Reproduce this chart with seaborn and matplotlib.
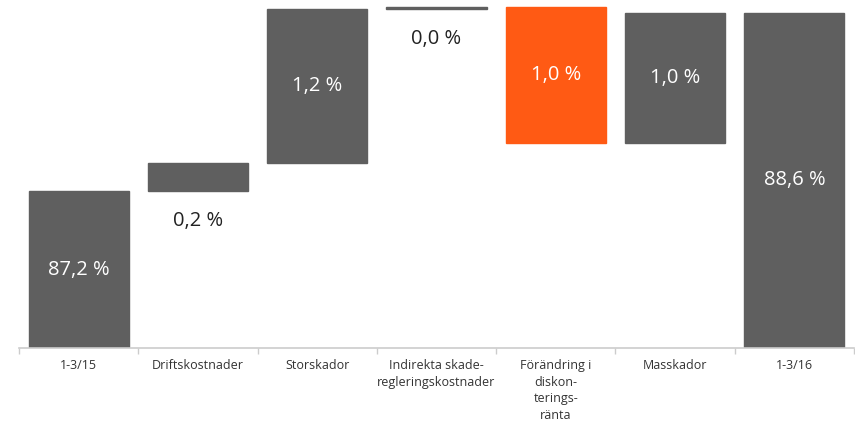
import matplotlib
matplotlib.use("Agg")
import matplotlib.pyplot as plt
import seaborn as sns
import numpy as np

# Categories (x tick labels)
categories = ["1-3/15", "Driftskostnader", "Storskador",
              "Indirekta skade-\nregleringskostnader",
              "Förändring i\ndiskon-\nterings-\nränta",
              "Masskador", "1-3/16"]
# Value labels printed on the chart
value_labels = ["87,2 %", "0,2 %", "1,2 %", "0,0 %", "1,0 %", "1,0 %", "88,6 %"]
# Bar extents as drawn (chart is not to scale; units)
bar_bottoms = [0, 157, 185, 339, 205, 205, 0]
bar_tops = [157, 185, 339, 341, 341, 335, 335]
# Label inside the bar (True) or below it (False)
label_inside = [True, False, True, False, True, True, True]
bar_colors = ["#5f5f5f", "#5f5f5f", "#5f5f5f", "#5f5f5f", "#ff5a14", "#5f5f5f", "#5f5f5f"]

sns.set_style("white")
plt.rcParams["font.family"] = ["Open Sans", "DejaVu Sans"]

heights = [t - b for t, b in zip(bar_tops, bar_bottoms)]

fig = plt.figure(figsize=(8.55, 4.22), dpi=100)
ax = fig.add_axes([19 / 855, 1 - 348 / 422, 835 / 855, 348 / 422])

sns.barplot(x=categories, y=heights, bottom=bar_bottoms, color="#5f5f5f",
            width=0.84, order=categories, ax=ax, saturation=1)
for patch, c in zip(ax.patches, bar_colors):
    patch.set_facecolor(c)
    patch.set_edgecolor(c)

for i, (lab, b, t, inside) in enumerate(zip(value_labels, bar_bottoms, bar_tops, label_inside)):
    if inside:
        ax.text(i, (b + t) / 2, lab, ha="center", va="center", color="white", fontsize=14.5)
    else:
        ax.text(i, b - 30, lab, ha="center", va="center", color="#222222", fontsize=14.5)

ax.set_xlim(-0.5, len(categories) - 0.5)
ax.set_ylim(0, 348)
ax.set_yticks([])
ax.set_xticks(range(len(categories)))
ax.set_xticklabels(categories, fontsize=9, color="#333333", linespacing=1.36)
ax.set_xticks(np.arange(-0.5, len(categories)), minor=True)
ax.tick_params(axis="x", which="major", length=0, pad=8)
ax.tick_params(axis="x", which="minor", length=4, color="#cccccc", width=1, direction="out", bottom=True)
for s in ["top", "left", "right"]:
    ax.spines[s].set_visible(False)
ax.spines["bottom"].set_color("#cccccc")
ax.spines["bottom"].set_linewidth(1.2)
ax.set_xlabel("")
ax.set_ylabel("")
ax.patch.set_alpha(0)

fig.savefig("out.png", dpi=100)
